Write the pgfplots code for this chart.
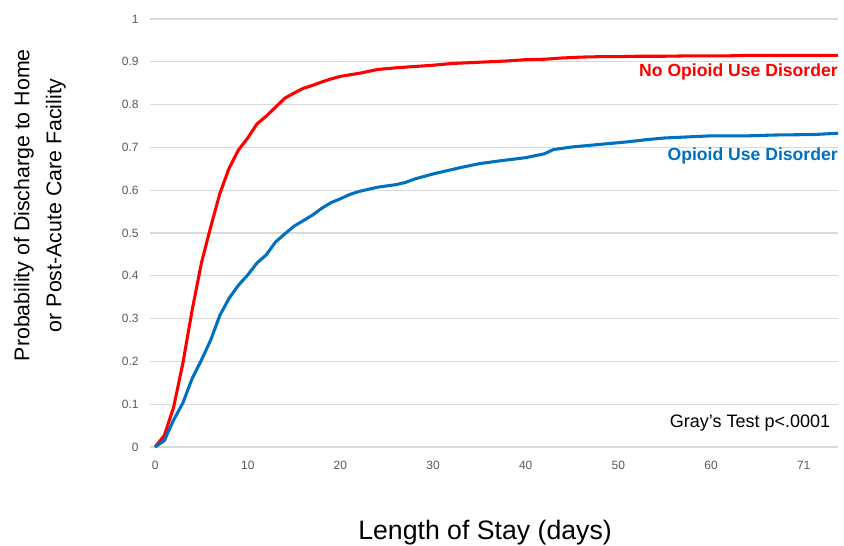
\documentclass[border=0pt]{standalone}
\usepackage{fontspec}
\setmainfont{Liberation Sans}
\usepackage{pgfplots}
\pgfplotsset{compat=1.18}
\definecolor{noOUD}{HTML}{FF0000}
\definecolor{OUD}{HTML}{0070C0}
\definecolor{gridgray}{HTML}{D9D9D9}
\definecolor{ticktext}{HTML}{595959}

\begin{document}
\begin{tikzpicture}
  % 1 px of the reference = 0.75pt; axis box south west at (0,0)
  \useasboundingbox (-112.5pt,-74.25pt) rectangle (520.5pt,335.25pt);
  \begin{axis}[
      at={(0,0)}, anchor=south west,
      scale only axis, width=516pt, height=321pt,
      xmin=-0.55, xmax=73.7, ymin=0, ymax=1,
      axis line style={draw=none},
      major tick length=0pt,
      ymajorgrids, grid style={gridgray, line width=0.9pt},
      xtick={0,10,20,30,40,50,60,70},
      xticklabels={0,10,20,30,40,50,60,71},
      ytick={0,0.1,...,1.0},
      yticklabels={0,0.1,0.2,0.3,0.4,0.5,0.6,0.7,0.8,0.9,1},
      /pgf/number format/assume math mode=true,
      ticklabel style={font=\fontsize{9}{11}\selectfont, text=ticktext},
      xticklabel style={yshift=-7pt},
      yticklabel style={xshift=-5pt},
      xlabel={Length of Stay (days)},
      xlabel style={font=\fontsize{20}{23}\selectfont, at={(axis description cs:0.487,-0.2)}, anchor=center},
      ylabel={Probability of Discharge to Home\\or Post-Acute Care Facility},
      ylabel style={font=\fontsize{16}{24}\selectfont, align=center, at={(axis description cs:-0.16,0.565)}, anchor=center},
      clip=false,
    ]
    \addplot[color=noOUD, line width=2.3pt, line join=round] coordinates {
      (0,0) (1,0.027) (2,0.093) (3,0.196) (4,0.32) (5,0.43) (6,0.514) (7,0.593)
      (8,0.652) (9,0.694) (10,0.722) (11,0.755) (12,0.773) (13,0.794) (14,0.815)
      (15,0.827) (16,0.838) (17,0.845) (18,0.853) (19,0.860) (20,0.866) (22,0.873)
      (24,0.882) (26,0.886) (28,0.889) (30,0.892) (32,0.896) (34,0.898) (36,0.900)
      (38,0.902) (40,0.905) (42,0.906) (44,0.909) (46,0.911) (48,0.912) (50,0.912)
      (52,0.913) (55,0.913) (58,0.914) (62,0.914) (64,0.915) (68,0.915) (73.7,0.915)
    };
    \addplot[color=OUD, line width=2.3pt, line join=round] coordinates {
      (0,0) (1,0.015) (2,0.063) (3,0.103) (4,0.16) (5,0.203) (6,0.25) (7,0.308)
      (8,0.348) (9,0.378) (10,0.402) (11,0.43) (12,0.449) (13,0.479) (14,0.498)
      (15,0.516) (16,0.529) (17,0.542) (18,0.558) (19,0.571) (20,0.580) (21,0.590)
      (22,0.597) (24,0.607) (26,0.613) (27,0.618) (28,0.626) (30,0.638) (32,0.648)
      (33,0.653) (35,0.662) (37,0.668) (40,0.676) (42,0.685) (43,0.695) (45,0.701)
      (47,0.705) (49,0.709) (51,0.713) (53,0.718) (55,0.722) (57,0.724) (59,0.726)
      (60,0.727) (64,0.727) (67,0.729) (71,0.730) (73.7,0.733)
    };
    \node[anchor=east, text=noOUD, font=\fontsize{13.2}{15}\selectfont\bfseries, inner sep=0pt]
      at (rel axis cs:1,0.877) {No Opioid Use Disorder};
    \node[anchor=east, text=OUD, font=\fontsize{13.2}{15}\selectfont\bfseries, inner sep=0pt]
      at (rel axis cs:1,0.680) {Opioid Use Disorder};
    \node[anchor=east, font=\fontsize{13.5}{15}\selectfont, inner sep=0pt]
      at (rel axis cs:0.989,0.056) {Gray’s Test p<.0001};
  \end{axis}
\end{tikzpicture}
\end{document}
